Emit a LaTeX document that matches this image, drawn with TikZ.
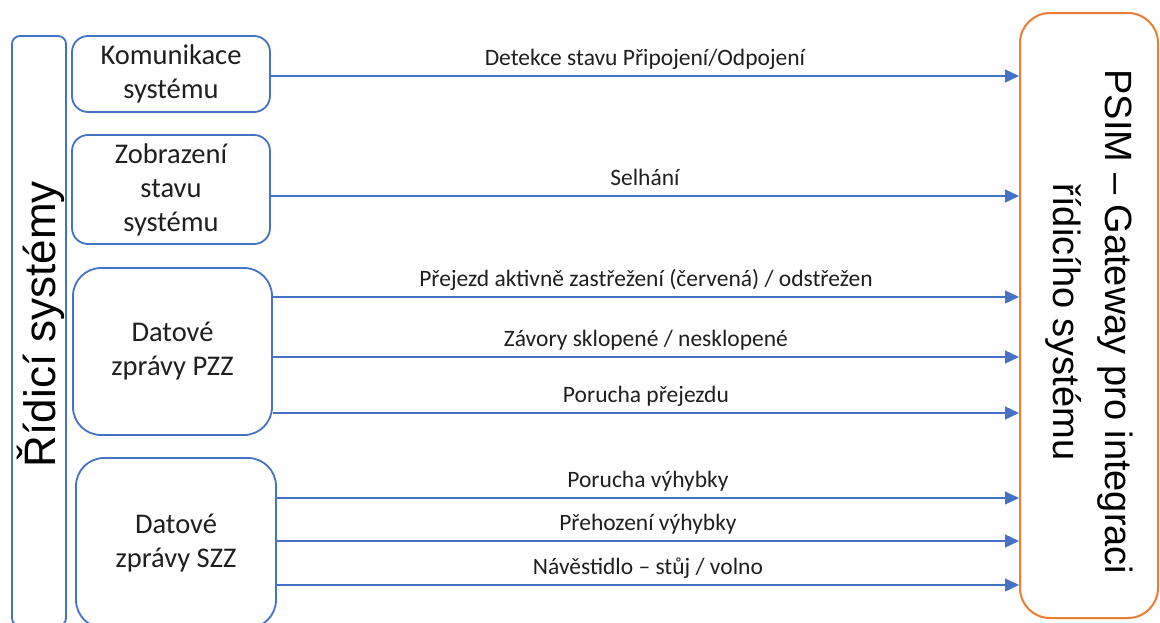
\documentclass[tikz,border=0pt]{standalone}
\usepackage{fontspec}
\setmainfont{Carlito}
\newfontfamily\arialfont{Liberation Sans}
\usetikzlibrary{arrows.meta}
\definecolor{boxblue}{HTML}{4472C4}
\definecolor{gworange}{HTML}{ED7D31}
\definecolor{ink}{HTML}{1F1F1F}

\begin{document}
\begin{tikzpicture}[x=1pt,y=-1pt,
  box/.style={draw=boxblue, line width=1.8pt, rounded corners=#1, align=center,
    inner sep=0pt, text=ink, font=\fontsize{28.5}{34}\selectfont},
  box/.default=16pt,
  conn/.style={draw=boxblue, line width=1.3pt, -{Triangle[length=14pt,width=13pt]}},
  lbl/.style={midway, anchor=base, yshift=11pt, text=ink,
    font=\fontsize{23.5}{28}\selectfont},
  bigtext/.style={text=black, align=center, font=\arialfont\fontsize{38}{52}\selectfont}
]
\useasboundingbox (0,0) rectangle (1160,622);
\fill[white] (0,0) rectangle (1160,622);
\clip (0,0) rectangle (1160,622);

% control system column
\node[box=8pt, minimum width=54pt, minimum height=590pt] (ctrl) at (39,331) {};
\node[bigtext, rotate=90, font=\arialfont\fontsize{44}{50}\selectfont] (ctrltext) at (41,324) {Řídicí systémy};

% message sources
\node[box, minimum width=198pt, minimum height=76pt] (kom) at (171,74)
  {Komunikace\\systému};
\node[box, minimum width=198pt, minimum height=109pt] (zob) at (171,189.5)
  {Zobrazení\\stavu\\systému};
\node[box=28pt, minimum width=199pt, minimum height=167pt] (pzz) at (172.5,351.5)
  {Datové\\zprávy PZZ};
\node[box=28pt, minimum width=200pt, minimum height=170pt] (szz) at (176,543)
  {Datové\\zprávy SZZ};

% gateway
\node[draw=gworange, line width=2pt, rounded corners=30pt, minimum width=138pt,
  minimum height=605pt] (psim) at (1089,315.5) {};
\node[bigtext, rotate=-90] (psimtext) at (1089,322)
  {PSIM – Gateway pro integraci\\řídicího systému};

% messages
\draw[conn] (kom.east |- 0,76) -- (psim.west |- 0,76)
  node[lbl] {Detekce stavu Připojení/Odpojení};
\draw[conn] (zob.east |- 0,196) -- (psim.west |- 0,196)
  node[lbl] {Selhání};
\draw[conn] (pzz.east |- 0,297) -- (psim.west |- 0,297)
  node[lbl] {Přejezd aktivně zastřežení (červená) / odstřežen};
\draw[conn] (pzz.east |- 0,357) -- (psim.west |- 0,357)
  node[lbl] {Závory sklopené / nesklopené};
\draw[conn] (pzz.east |- 0,413) -- (psim.west |- 0,413)
  node[lbl] {Porucha přejezdu};
\draw[conn] (szz.east |- 0,498) -- (psim.west |- 0,498)
  node[lbl] {Porucha výhybky};
\draw[conn] (szz.east |- 0,541) -- (psim.west |- 0,541)
  node[lbl] {Přehození výhybky};
\draw[conn] (szz.east |- 0,585) -- (psim.west |- 0,585)
  node[lbl] {Návěstidlo – stůj / volno};
\end{tikzpicture}
\end{document}
